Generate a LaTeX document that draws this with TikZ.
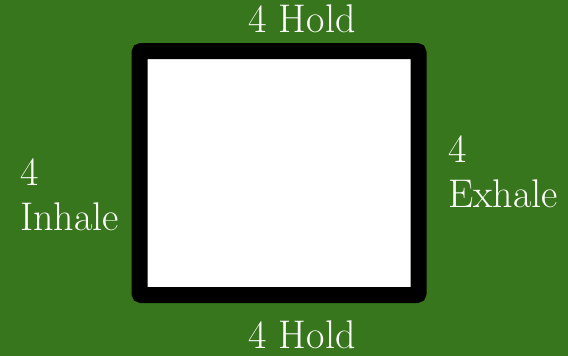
\documentclass[tikz,border=0pt]{standalone}
\usepackage{tikz}
\usetikzlibrary{positioning}

\definecolor{boxgreen}{HTML}{38761D}

\begin{document}
\begin{tikzpicture}[x=1pt,y=1pt,yscale=-1,xscale=1,
  lbl/.style={text=white,inner sep=0pt,font=\fontsize{40}{44.5}\selectfont,align=left}]
%Background
\fill [boxgreen] (0,0) rectangle (568,356);
\useasboundingbox (0,0) rectangle (568,356);

%Shape: Square [id:box]
\node (box) [draw=black,line width=16pt,fill=white,rounded corners=2pt,
  minimum width=279pt,minimum height=244pt,inner sep=0pt] at (279,173) {};

% Text Node
\node (top) [lbl,anchor=base] at (302,32) {4 Hold};
% Text Node
\node (bottom) [lbl,anchor=base,text depth=0pt] at (302,348) {4 Hold};
% Text Node
\node (left) [lbl,anchor=base west] at (20,230) {4\\Inhale};
% Text Node
\node (right) [lbl,anchor=base west] at (448,207) {4\\Exhale};

\end{tikzpicture}
\end{document}
